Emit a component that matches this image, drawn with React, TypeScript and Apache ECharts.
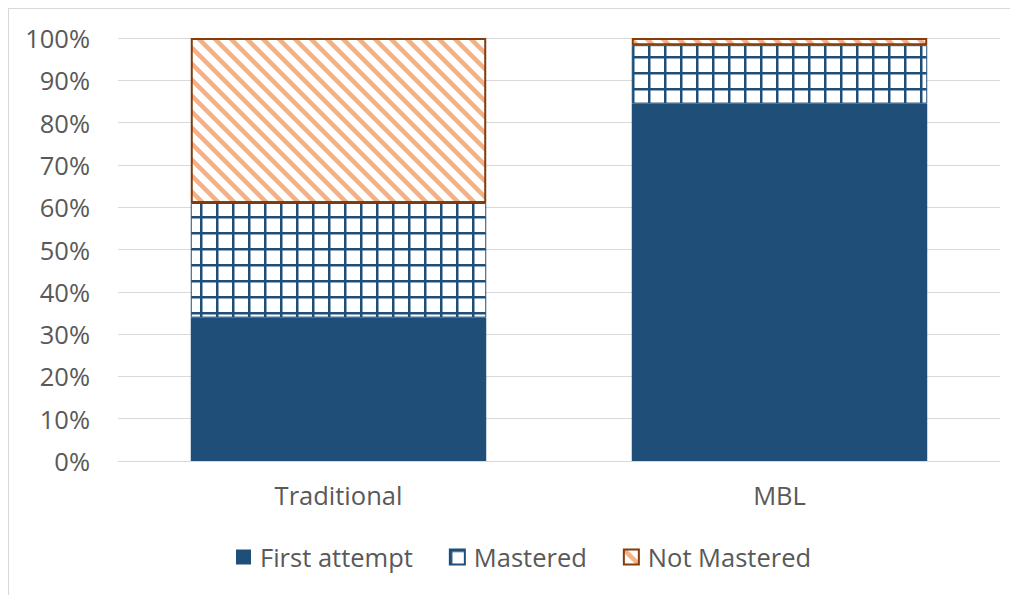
import React, { useEffect, useRef } from "react";
import * as echarts from "echarts";

const categories = ["Traditional", "MBL"];
const firstAttempt = [33.9, 84.5];
const mastered = [27.1, 13.8];
const notMastered = [39.0, 1.7];
const seriesNames = ["First attempt", "Mastered", "Not Mastered"];

const BLUE = "#1F4E79";
const ORANGE = "#F4B183";
const BROWN = "#843C0C";
const TEXT = "#595959";
const GRID = "#D9D9D9";
const FONT = "'Open Sans', sans-serif";

function gridPattern(): HTMLCanvasElement {
  const c = document.createElement("canvas");
  c.width = 16;
  c.height = 16;
  const g = c.getContext("2d")!;
  g.fillStyle = "#FFFFFF";
  g.fillRect(0, 0, 16, 16);
  g.fillStyle = BLUE;
  g.fillRect(0, 0, 16, 2.5);
  g.fillRect(0, 0, 2.5, 16);
  return c;
}

function stripePattern(): HTMLCanvasElement {
  const c = document.createElement("canvas");
  c.width = 16;
  c.height = 16;
  const g = c.getContext("2d")!;
  g.fillStyle = "#FFFFFF";
  g.fillRect(0, 0, 16, 16);
  g.strokeStyle = ORANGE;
  g.lineWidth = 4.5;
  for (let k = -1; k <= 1; k++) {
    g.beginPath();
    g.moveTo(-8, -8 + 16 * k);
    g.lineTo(24, 24 + 16 * k);
    g.stroke();
  }
  return c;
}

export default function App() {
  const ref = useRef<HTMLDivElement>(null);

  useEffect(() => {
    if (!ref.current) return;
    const chart = echarts.init(ref.current, undefined, { renderer: "svg" });
    const gp = gridPattern();
    const sp = stripePattern();
    chart.setOption({
      animation: false,
      graphic: [
        { type: "line", shape: { x1: 0.5, y1: 0, x2: 0.5, y2: 587 }, style: { stroke: GRID, lineWidth: 1 } },
        { type: "line", shape: { x1: 0, y1: 0.5, x2: 1010, y2: 0.5 }, style: { stroke: GRID, lineWidth: 1 } },
      ],
      grid: { left: 110, right: 18, top: 30, bottom: 134 },
      legend: {
        data: seriesNames,
        top: 531,
        left: 223,
        itemWidth: 15,
        itemHeight: 15,
        itemGap: 36,
        icon: "rect",
        textStyle: { fontSize: 25.5, color: TEXT, fontFamily: FONT, padding: [0, 0, 0, 4] },
      },
      xAxis: {
        type: "category",
        data: categories,
        axisLine: { lineStyle: { color: GRID, width: 1 } },
        axisTick: { show: false },
        axisLabel: { fontSize: 25.5, color: TEXT, fontFamily: FONT, margin: 21 },
      },
      yAxis: {
        type: "value",
        min: 0,
        max: 100,
        interval: 10,
        axisLabel: { formatter: "{value}%", fontSize: 25.5, color: TEXT, fontFamily: FONT, margin: 28 },
        axisLine: { show: false },
        axisTick: { show: false },
        splitLine: { lineStyle: { color: GRID, width: 1 } },
      },
      series: [
        {
          name: seriesNames[0],
          type: "bar",
          stack: "total",
          barWidth: "67%",
          data: firstAttempt,
          itemStyle: { color: BLUE },
        },
        {
          name: seriesNames[1],
          type: "bar",
          stack: "total",
          data: mastered,
          itemStyle: {
            color: { image: gp, repeat: "repeat", imageWidth: 16, imageHeight: 16 },
            borderColor: BLUE,
            borderWidth: 1,
          },
        },
        {
          name: seriesNames[2],
          type: "bar",
          stack: "total",
          data: notMastered,
          itemStyle: {
            color: { image: sp, repeat: "repeat", imageWidth: 16, imageHeight: 16 },
            borderColor: BROWN,
            borderWidth: 2,
          },
        },
      ],
    });
    return () => chart.dispose();
  }, []);

  return <div ref={ref} style={{ width: 1010, height: 587 }} />;
}
